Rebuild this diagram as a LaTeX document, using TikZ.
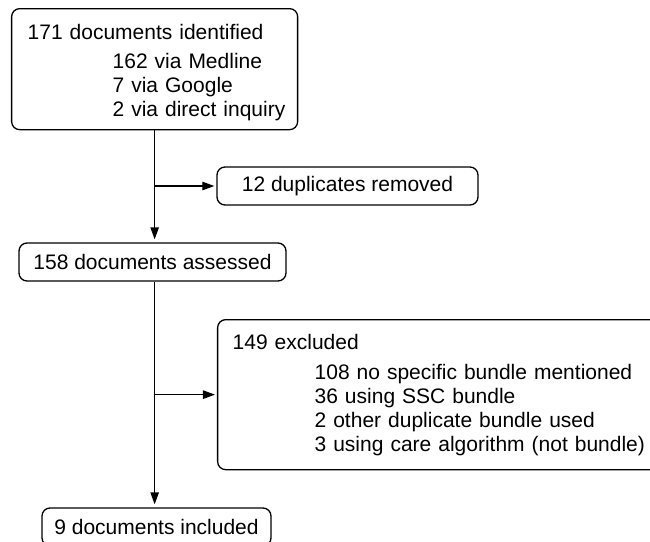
\documentclass[tikz,border=0pt]{standalone}
\usepackage{fontspec}
\setmainfont{Liberation Sans}
\usepackage{tikz}
\usetikzlibrary{arrows.meta}

\begin{document}
\begin{tikzpicture}[
			x=0.5pt, y=-0.5pt,
			>={Triangle[length=6pt, width=4.2pt]},
			line width=0.65pt,
			font=\fontsize{10.5}{12}\selectfont,
			box/.style={draw, rounded corners=4pt, inner sep=0pt, minimum height=19pt, align=center},
			listbox/.style={draw, rounded corners=4pt, inner ysep=0pt, anchor=north west, align=left}
			]
			\useasboundingbox (0,0) rectangle (650,542);
			
			% --- Definicja węzłów (etapy selekcji) ---
			\node[listbox, minimum width=143pt, minimum height=60.5pt, text width=127pt, inner xsep=8pt] (ident) at (11,8) {\rule{0pt}{10.7pt}171 documents identified\\[2.5pt]
				\hspace*{42.5pt}\mbox{162 via Medline}\\
				\hspace*{42.5pt}\mbox{7 via Google}\\
				\hspace*{42.5pt}\mbox{2 via direct inquiry}}; % Dokumenty znalezione
			\node[box, minimum width=130.5pt] (dupl) at (347.5,186) {12 duplicates removed}; % Duplikaty
			\node[box, minimum width=133.5pt] (assess) at (152.5,262) {158 documents assessed}; % Ocenione
			\node[listbox, minimum width=222.5pt, minimum height=75pt, text width=207.5pt, inner xsep=7.5pt] (excl) at (217,319) {149 excluded\\[3pt]
				\hspace*{41pt}\mbox{108 no specific bundle mentioned}\\
				\hspace*{41pt}\mbox{36 using SSC bundle}\\
				\hspace*{41pt}\mbox{2 other duplicate bundle used}\\
				\hspace*{41pt}\mbox{3 using care algorithm (not bundle)}}; % Wykluczone
			\node[box, minimum width=114.5pt] (incl) at (156.5,527) {9 documents included}; % Włączone
			
			% --- Rysowanie strzałek ---
			\draw[->, shorten >=1.5pt] (ident.south) -- (ident.south |- assess.north);
			\draw[->, shorten >=1pt] (ident.south |- dupl.west) -- (dupl.west);
			\draw[->, shorten >=1.5pt] (ident.south |- assess.south) -- (ident.south |- incl.north);
			\draw[->, shorten >=1pt] (ident.south |- excl.west) -- (excl.west);
			
		\end{tikzpicture}
\end{document}
